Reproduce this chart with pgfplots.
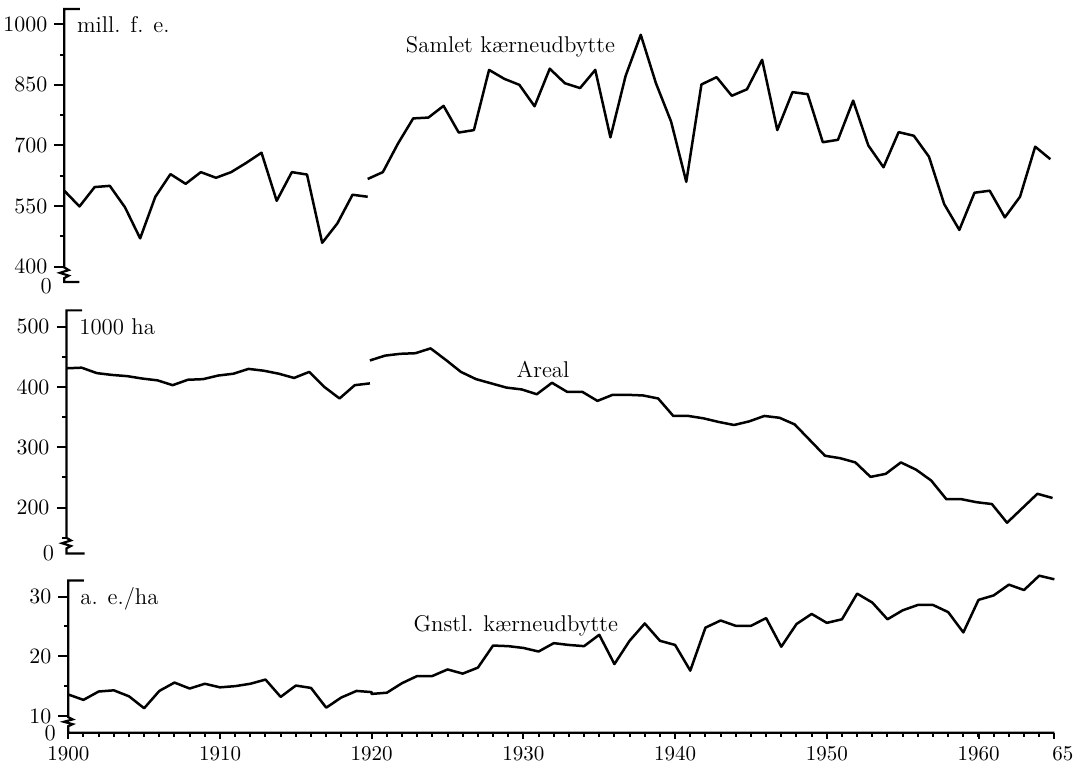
\documentclass[border=0pt]{standalone}
\usepackage{pgfplots}
\pgfplotsset{compat=1.18}
\pgfplotsset{
  panel/.style={
    x=7.585pt,
    xmin=1900, xmax=1965,
    enlargelimits=false,
    axis lines*=left,
    axis line style={draw=none},
    clip=false,
    anchor=south west,
    tick align=outside,
    major tick length=5pt,
    minor tick length=2.2pt,
    every tick/.style={black, line width=1pt},
    tick label style={font=\fontsize{10.5}{12}\selectfont},
    /pgf/number format/1000 sep={},
  },
}
\tikzset{
  series/.style={black, line width=1.25pt, line join=round},
  axisline/.style={black, line width=1.1pt, line join=miter},
  lbl/.style={font=\fontsize{11.4}{13}\selectfont, inner sep=0pt},
}
\begin{document}
\begin{tikzpicture}
\useasboundingbox (0pt,0pt) rectangle (543.5pt,-383.5pt);

% Samlet kaerneudbytte
\begin{axis}[panel, y=0.202pt, ymin=362, ymax=1038, at={(32.15pt,-141pt)},
  xtick=\empty, ytick={400,550,...,1000}, minor ytick={475,625,775,925}]
\addplot[series, no marks] coordinates {
  (1900,588) (1901,549) (1902,597) (1903,600) (1904,547) (1905,470)
  (1906,573) (1907,629) (1908,605) (1909,634) (1910,620) (1911,634)
  (1912,657) (1913,682) (1914,563) (1915,634) (1916,628) (1917,459)
  (1918,507) (1919,578) (1920,573)
};
\addplot[series, no marks] coordinates {
  (1920,617) (1921,634) (1922,705) (1923,767) (1924,769) (1925,798)
  (1926,732) (1927,738) (1928,887) (1929,865) (1930,850) (1931,797)
  (1932,890) (1933,854) (1934,842) (1935,887) (1936,720) (1937,872)
  (1938,974) (1939,854) (1940,759) (1941,610) (1942,851) (1943,869)
  (1944,823) (1945,839) (1946,912) (1947,738) (1948,832) (1949,827)
  (1950,708) (1951,714) (1952,811) (1953,700) (1954,646) (1955,733)
  (1956,724) (1957,672) (1958,555) (1959,491) (1960,583) (1961,588)
  (1962,522) (1963,573) (1964,697) (1965,666)
};
\draw[axisline] ([xshift=7.8pt]axis cs:1900,1038) -- (axis cs:1900,1038)
  -- (axis cs:1900,398) -- ++(2.2pt,-1.3pt) -- ++(-4.4pt,-1.4pt)
  -- ++(4.4pt,-1.4pt) -- ++(-2.2pt,-1.2pt) |- ([xshift=7.5pt]axis cs:1900,362);
\node[lbl, anchor=east] at ([xshift=-6pt,yshift=-2pt]axis cs:1900,362) {0};
\node[lbl, anchor=west] at (axis cs:1900.82,1000) {mill. f. e.};
\node[lbl] at (axis cs:1929.41,944) {Samlet kærneudbytte};
\end{axis}

% Areal
\begin{axis}[panel, y=0.30165pt, ymin=124, ymax=527, at={(33.25pt,-276.75pt)},
  xtick=\empty, ytick={200,300,400,500}, minor ytick={150,250,350,450}]
\addplot[series, no marks] coordinates {
  (1900,431) (1901,432) (1902,423) (1903,420) (1904,418) (1905,414)
  (1906,411) (1907,403) (1908,412) (1909,413) (1910,419) (1911,422)
  (1912,430) (1913,427) (1914,422) (1915,415) (1916,425) (1917,400)
  (1918,381) (1919,403) (1920,406)
};
\addplot[series, no marks] coordinates {
  (1920,444) (1921,452) (1922,455) (1923,456) (1924,464) (1925,445)
  (1926,425) (1927,413) (1928,406) (1929,399) (1930,396) (1931,388)
  (1932,407) (1933,392) (1934,392) (1935,377) (1936,387) (1937,387)
  (1938,386) (1939,381) (1940,352) (1941,352) (1942,348) (1943,342)
  (1944,337) (1945,343) (1946,352) (1947,349) (1948,338) (1949,312)
  (1950,286) (1951,282) (1952,275) (1953,251) (1954,256) (1955,275)
  (1956,263) (1957,245) (1958,214) (1959,214) (1960,209) (1961,206)
  (1962,175) (1963,199) (1964,223) (1965,216)
};
\draw[axisline] ([xshift=7.8pt]axis cs:1900,527) -- (axis cs:1900,527)
  -- (axis cs:1900,150) -- ++(2.2pt,-1.3pt) -- ++(-4.4pt,-1.4pt)
  -- ++(4.4pt,-1.4pt) -- ++(-2.2pt,-1.2pt) |- ([xshift=9pt]axis cs:1900,124);
\node[lbl, anchor=east] at ([xshift=-6pt]axis cs:1900,124) {0};
\node[lbl, anchor=west] at (axis cs:1900.82,500) {1000 ha};
\node[lbl] at (axis cs:1931.41,429) {Areal};
\end{axis}

% Gnstl. kaerneudbytte
\begin{axis}[panel, y=2.985pt, ymin=7.2, ymax=32.7, at={(34.15pt,-366.35pt)},
  axis x line*=bottom,
  xtick={1900,1910,...,1960,1965},
  xticklabels={1900,1910,1920,1930,1940,1950,1960,\makebox[0pt][l]{\hspace{-1pt}65}},
  minor xtick={1900,...,1965},
  xtick style={/pgfplots/major tick length=3pt, /pgfplots/minor tick length=2pt},
  xticklabel style={yshift=1.5pt},
  ytick={10,20,30}, minor ytick={15,25}]
\addplot[series, no marks] coordinates {
  (1900,13.6) (1901,12.7) (1902,14.1) (1903,14.3) (1904,13.3) (1905,11.3)
  (1906,14.2) (1907,15.6) (1908,14.6) (1909,15.4) (1910,14.8) (1911,15.0)
  (1912,15.4) (1913,16.1) (1914,13.2) (1915,15.1) (1916,14.7) (1917,11.4)
  (1918,13.1) (1919,14.2) (1920,14.0) (1920,13.7) (1921,13.9) (1922,15.5)
  (1923,16.7) (1924,16.7) (1925,17.8) (1926,17.1) (1927,18.1) (1928,21.8)
  (1929,21.7) (1930,21.4) (1931,20.8) (1932,22.2) (1933,21.9) (1934,21.7)
  (1935,23.6) (1936,18.7) (1937,22.6) (1938,25.5) (1939,22.6) (1940,21.9)
  (1941,17.6) (1942,24.8) (1943,26.0) (1944,25.1) (1945,25.1) (1946,26.4)
  (1947,21.6) (1948,25.4) (1949,27.1) (1950,25.6) (1951,26.2) (1952,30.5)
  (1953,29.0) (1954,26.2) (1955,27.7) (1956,28.6) (1957,28.6) (1958,27.4)
  (1959,24.0) (1960,29.45) (1961,30.2) (1962,32.0) (1963,31.1) (1964,33.5)
  (1965,32.9)
};
\draw[axisline] ([xshift=7.8pt]axis cs:1900,32.7) -- (axis cs:1900,32.7)
  -- (axis cs:1900,9.8) -- ++(2.2pt,-1.1pt) -- ++(-4.4pt,-1.2pt)
  -- ++(4.4pt,-1.2pt) -- ++(-2.2pt,-1pt) |- (axis cs:1965,7.2);
\node[lbl, anchor=east] at ([xshift=-6pt]axis cs:1900,7.2) {0};
\node[lbl, anchor=west] at (axis cs:1900.77,29.56) {a. e./ha};
\node[lbl] at (axis cs:1929.5,25.1) {Gnstl. kærneudbytte};
\end{axis}
\end{tikzpicture}
\end{document}
